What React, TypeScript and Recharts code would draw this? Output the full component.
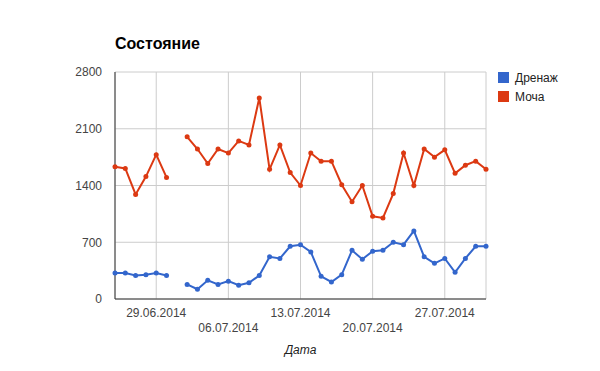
import React from 'react';
import { LineChart, Line, XAxis, YAxis, CartesianGrid } from 'recharts';

const dates = [
  '25.06.2014', '26.06.2014', '27.06.2014', '28.06.2014', '29.06.2014', '30.06.2014',
  '01.07.2014', '02.07.2014', '03.07.2014', '04.07.2014', '05.07.2014', '06.07.2014',
  '07.07.2014', '08.07.2014', '09.07.2014', '10.07.2014', '11.07.2014', '12.07.2014',
  '13.07.2014', '14.07.2014', '15.07.2014', '16.07.2014', '17.07.2014', '18.07.2014',
  '19.07.2014', '20.07.2014', '21.07.2014', '22.07.2014', '23.07.2014', '24.07.2014',
  '25.07.2014', '26.07.2014', '27.07.2014', '28.07.2014', '29.07.2014', '30.07.2014',
  '31.07.2014',
];

const drainage: (number | null)[] = [
  320, 320, 290, 300, 320, 290,
  null, 180, 120, 230, 180, 220,
  170, 200, 290, 520, 500, 650,
  670, 580, 280, 210, 300, 600,
  490, 590, 600, 700, 670, 840,
  520, 440, 500, 330, 500, 650,
  650,
];

const urine: (number | null)[] = [
  1630, 1610, 1290, 1510, 1780, 1500,
  null, 2000, 1850, 1670, 1850, 1800,
  1950, 1900, 2480, 1600, 1900, 1560,
  1400, 1800, 1700, 1700, 1410, 1200,
  1400, 1020, 1000, 1300, 1800, 1400,
  1850, 1750, 1840, 1550, 1650, 1700,
  1600,
];

const xTickLabels = ['29.06.2014', '06.07.2014', '13.07.2014', '20.07.2014', '27.07.2014'];
const yTicks = [0, 700, 1400, 2100, 2800];

const seriesNames = ['Дренаж', 'Моча'];
const seriesColors = ['#3366cc', '#dc3912'];

const data = dates.map((d, i) => ({ x: i, date: d, drainage: drainage[i], urine: urine[i] }));
const xTicks = xTickLabels.map((l) => dates.indexOf(l));

const FONT = 'Arial, "Liberation Sans", sans-serif';

const XTick = (props: any) => {
  const { x, y, payload } = props;
  const idx = xTicks.indexOf(payload.value);
  const dy = idx % 2 === 1 ? 25 : 10;
  return (
    <text x={x} y={y + dy} textAnchor="middle" fill="#444" fontSize={12} fontFamily={FONT}>
      {dates[payload.value]}
    </text>
  );
};

export default function App() {
  return (
    <div style={{ position: 'absolute', left: 0, top: 0, width: 600, height: 371, background: '#fff', fontFamily: FONT }}>
      <div style={{ position: 'absolute', left: 115, top: 35, fontSize: 16, fontWeight: 'bold', color: '#000' }}>
        Состояние
      </div>
      <div style={{ position: 'absolute', left: 498, top: 68 }}>
        {seriesNames.map((n, i) => (
          <div key={n} style={{ display: 'flex', alignItems: 'center', height: 19, fontSize: 12, color: '#222' }}>
            <div style={{ width: 11, height: 11, background: seriesColors[i], marginRight: 6 }} />
            <span>{n}</span>
          </div>
        ))}
      </div>
      <div style={{ position: 'absolute', left: 115, width: 371, top: 343, textAlign: 'center', fontSize: 12, fontStyle: 'italic', color: '#222' }}>
        Дата
      </div>
      <LineChart width={600} height={371} data={data} margin={{ top: 72, right: 114, bottom: 32, left: 0 }}>
        <CartesianGrid stroke="#cccccc" strokeWidth={1} />
        <XAxis
          dataKey="x"
          type="number"
          domain={[0, dates.length - 1]}
          ticks={xTicks}
          tick={<XTick />}
          tickLine={false}
          axisLine={{ stroke: '#333', strokeWidth: 1 }}
          height={40}
          interval={0}
        />
        <YAxis
          type="number"
          domain={[0, 2800]}
          ticks={yTicks}
          width={115}
          tickLine={false}
          tickMargin={7}
          axisLine={{ stroke: '#333', strokeWidth: 1 }}
          tick={{ fill: '#444', fontSize: 12, fontFamily: FONT }}
        />
        <Line
          dataKey="drainage"
          name={seriesNames[0]}
          stroke={seriesColors[0]}
          strokeWidth={2}
          dot={{ r: 2.5, fill: seriesColors[0], stroke: 'none' }}
          isAnimationActive={false}
        />
        <Line
          dataKey="urine"
          name={seriesNames[1]}
          stroke={seriesColors[1]}
          strokeWidth={2}
          dot={{ r: 2.5, fill: seriesColors[1], stroke: 'none' }}
          isAnimationActive={false}
        />
      </LineChart>
    </div>
  );
}
